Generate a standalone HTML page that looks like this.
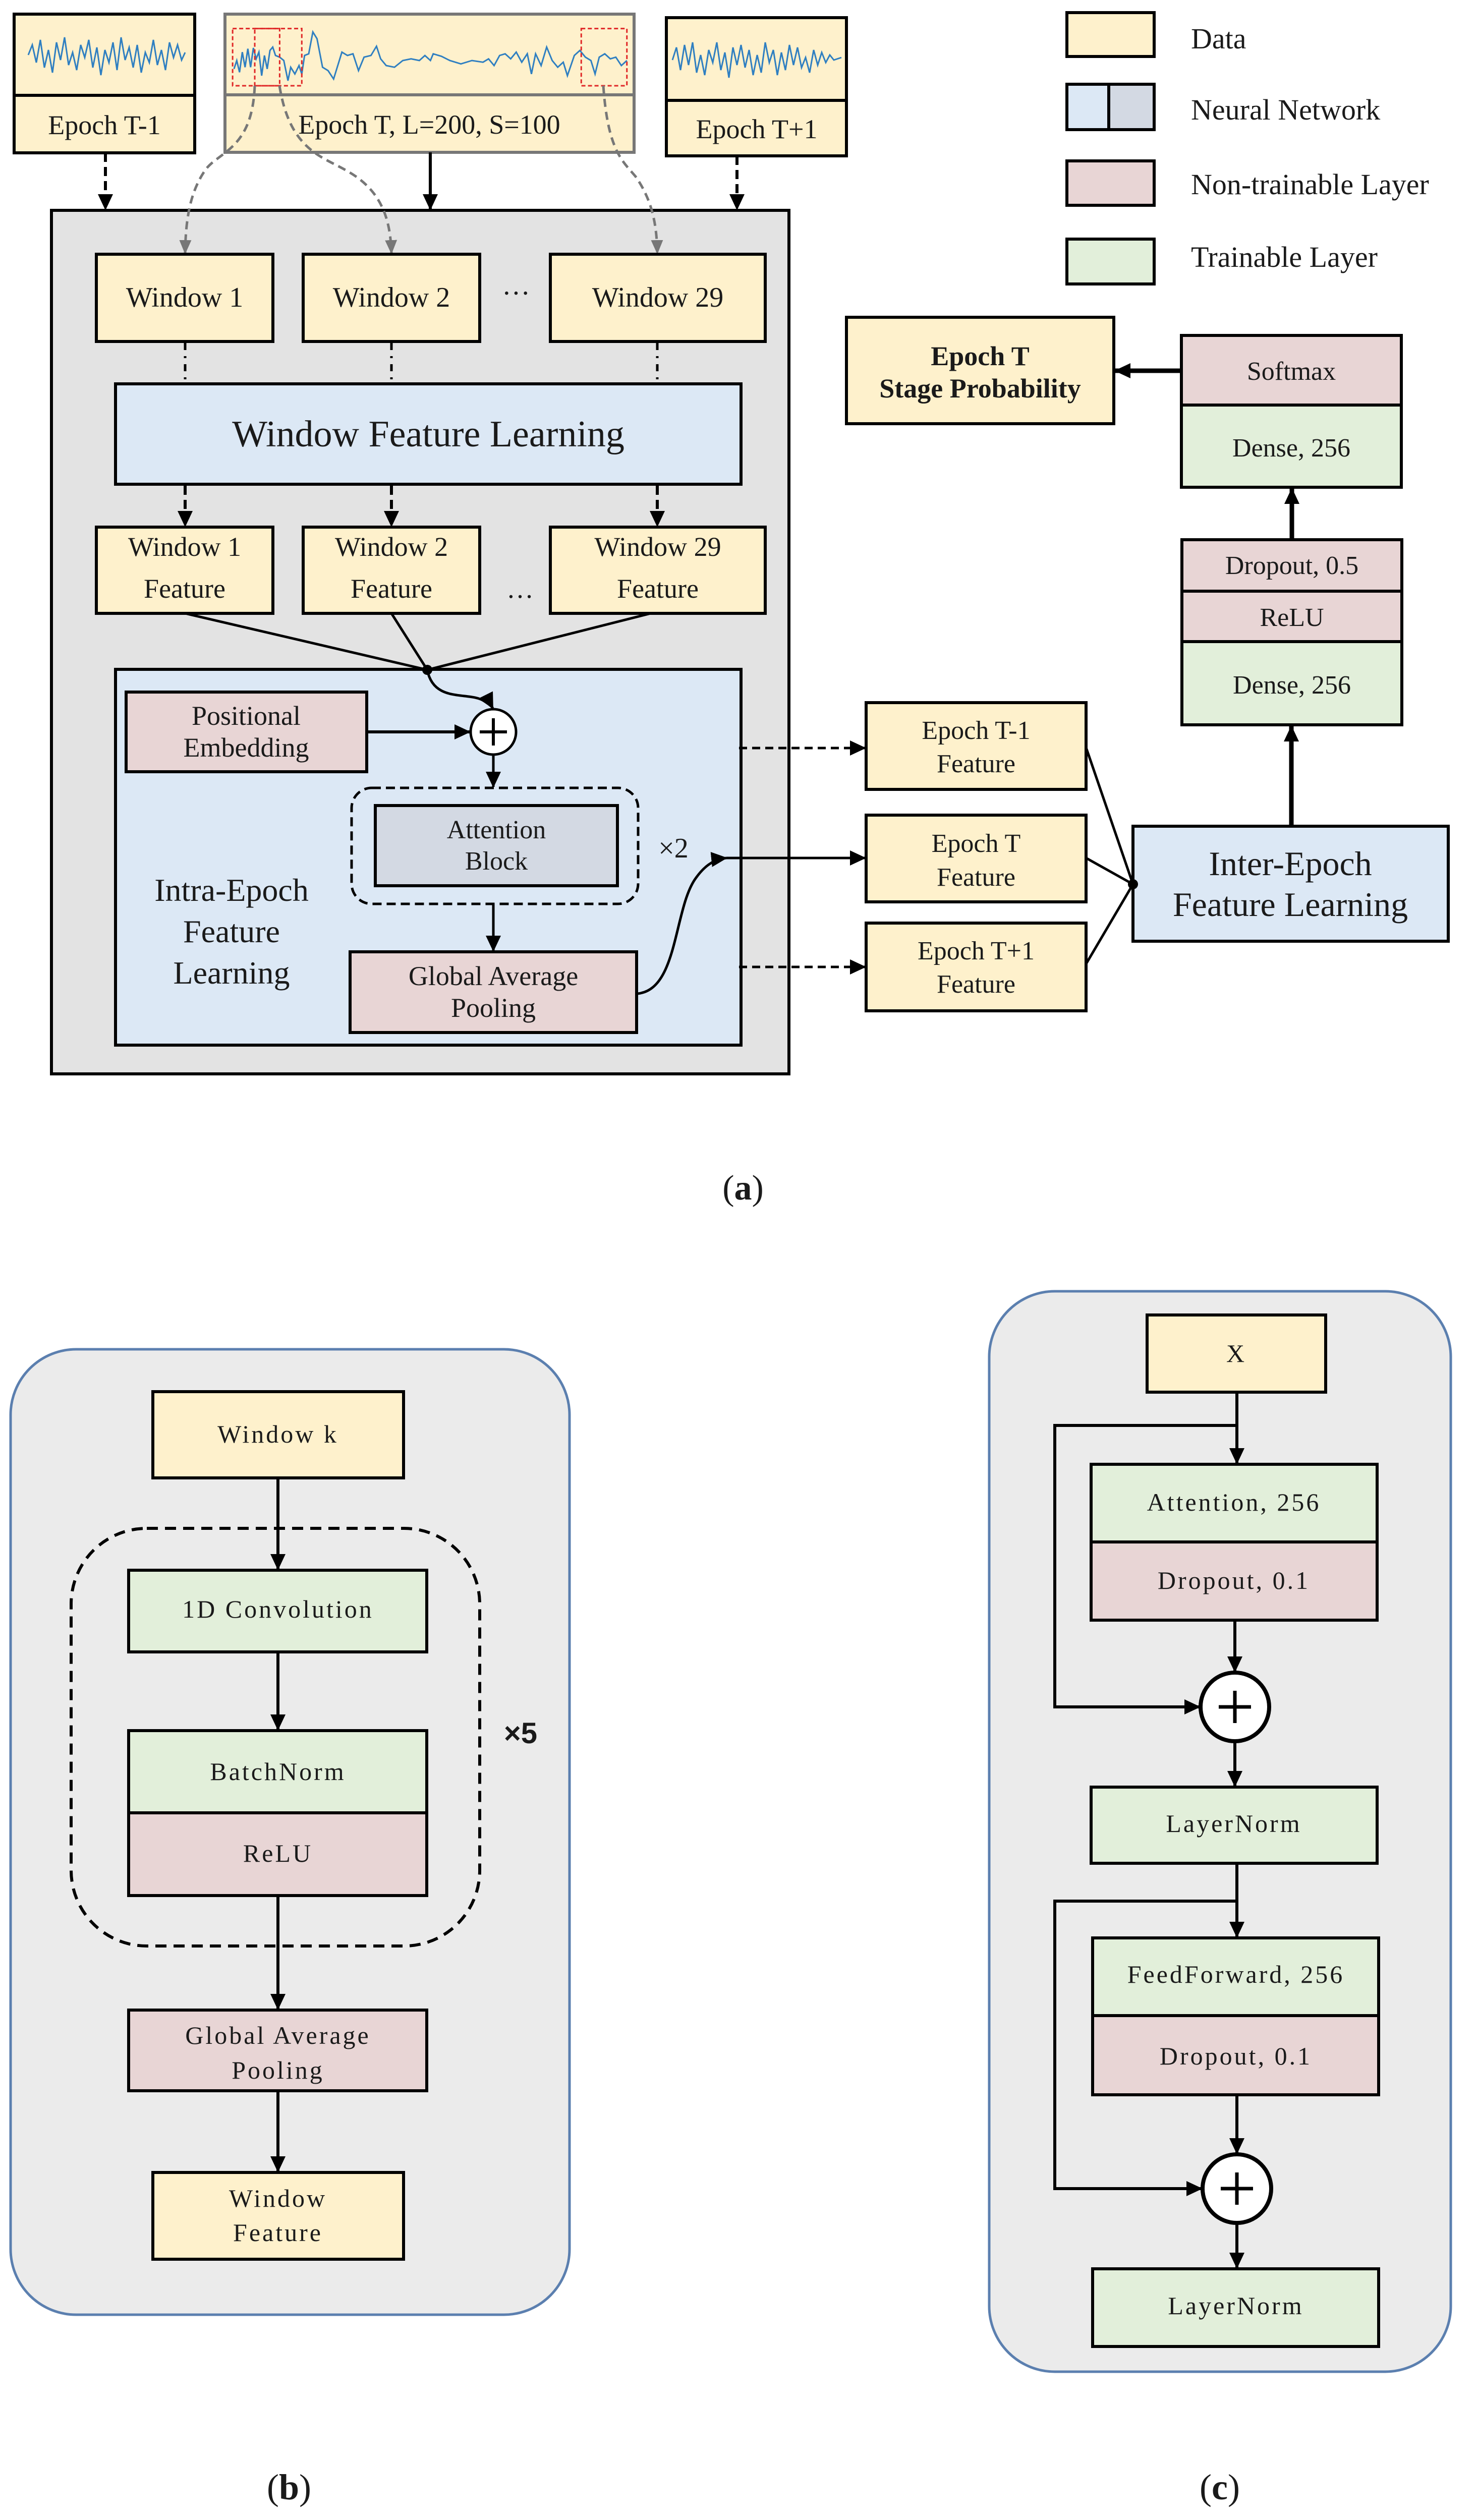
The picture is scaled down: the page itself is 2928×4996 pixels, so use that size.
<!DOCTYPE html>
<html><head><meta charset="utf-8"><style>
html,body{margin:0;padding:0;background:#fff;}
svg{display:block;}
text{font-family:"Liberation Serif",serif;fill:#1a1a1a;}
.c{text-anchor:middle;}
.lo{font-size:50px;letter-spacing:4px;}
</style></head><body>
<svg width="2928" height="4996" viewBox="0 0 2928 4996" xmlns="http://www.w3.org/2000/svg">
<defs>
<marker id="ah" markerUnits="userSpaceOnUse" markerWidth="34" markerHeight="34" refX="30" refY="17" orient="auto"><path d="M0,2 L32,17 L0,32 z" fill="#000"/></marker>
<marker id="ag" markerUnits="userSpaceOnUse" markerWidth="30" markerHeight="30" refX="26" refY="15" orient="auto"><path d="M0,3 L28,15 L0,27 z" fill="#777"/></marker>
</defs>
<rect width="2928" height="4996" fill="#fff"/>

<!-- Epoch boxes -->
<rect x="28" y="28" width="358" height="275" fill="#fef1cc" stroke="#000" stroke-width="6"/>
<line x1="28" y1="189" x2="386" y2="189" stroke="#000" stroke-width="6"/>
<text x="207" y="266" class="c" font-size="54">Epoch T-1</text>
<polyline transform="translate(56,109)" fill="none" stroke="#2f7fc1" stroke-width="3" points="0,0 8,-20 16,15 24,-30 32,25 40,-10 48,35 56,-25 64,10 72,-35 80,20 88,-5 96,30 104,-20 112,5 120,-30 128,25 136,-15 144,40 152,-10 160,15 168,-25 176,30 184,-35 192,10 200,-15 208,25 216,-20 224,35 232,-5 240,15 248,-30 256,20 264,-10 272,30 280,-25 288,5 296,-20 304,10 311,-5"/>

<rect x="446" y="28" width="811" height="274" fill="#fef1cc" stroke="#777" stroke-width="6"/>
<line x1="446" y1="188" x2="1257" y2="188" stroke="#777" stroke-width="6"/>
<text x="851" y="265" class="c" font-size="54">Epoch T, L=200, S=100</text>
<g transform="translate(420,20) scale(0.5485,0.3333)">
<polyline fill="none" stroke="#2f7fc1" stroke-width="3" vector-effect="non-scaling-stroke" points="80,350 90,300 100,370 110,250 120,340 130,230 140,340 150,225 160,290 170,250 180,390 190,270 200,350 210,240 220,220 230,270 245,280 260,300 275,420 285,340 300,380 315,330 325,380 335,270 350,260 365,130 380,170 400,340 420,360 440,410 455,330 470,250 490,270 510,260 530,360 550,280 575,270 595,215 610,290 630,330 660,340 690,300 720,290 750,300 770,270 790,300 800,260 830,275 860,300 900,320 940,300 980,310 1000,290 1020,330 1040,270 1060,260 1080,290 1100,250 1120,310 1140,260 1155,380 1170,260 1190,330 1210,220 1230,300 1250,340 1270,310 1285,390 1310,270 1330,240 1350,280 1370,300 1385,380 1400,280 1420,260 1440,290 1460,280 1480,330 1500,300"/>
<rect x="75" y="110" width="170" height="340" fill="none" stroke="#e02828" stroke-width="3" stroke-dasharray="8,5" vector-effect="non-scaling-stroke"/>
<rect x="155" y="110" width="170" height="340" fill="none" stroke="#e02828" stroke-width="3" stroke-dasharray="8,5" vector-effect="non-scaling-stroke"/>
<rect x="1335" y="110" width="165" height="340" fill="none" stroke="#e02828" stroke-width="3" stroke-dasharray="8,5" vector-effect="non-scaling-stroke"/>
</g>

<rect x="1321" y="35" width="357" height="274" fill="#fef1cc" stroke="#000" stroke-width="6"/>
<line x1="1321" y1="199" x2="1678" y2="199" stroke="#000" stroke-width="6"/>
<text x="1500" y="274" class="c" font-size="54">Epoch T+1</text>
<polyline transform="translate(1333,119)" fill="none" stroke="#2f7fc1" stroke-width="3" points="0,0 8,-25 16,20 24,-30 32,10 40,-35 48,25 56,-10 64,30 72,-20 80,5 88,-35 96,20 104,-15 112,35 120,-25 128,10 136,-30 144,15 152,-20 160,30 168,-10 176,25 184,-35 192,5 200,-20 208,30 216,-15 224,20 232,-30 240,10 248,-25 256,15 264,-5 272,25 280,-20 288,10 296,-15 304,5 312,-10 320,0 335,-5"/>

<!-- main gray box -->
<rect x="102" y="417" width="1462" height="1712" fill="#e3e3e3" stroke="#000" stroke-width="6"/>
<line x1="209" y1="303" x2="209" y2="415" stroke="#000" stroke-width="6" stroke-dasharray="18,10" marker-end="url(#ah)"/>
<line x1="853" y1="302" x2="853" y2="415" stroke="#000" stroke-width="6" marker-end="url(#ah)"/>
<line x1="1461" y1="309" x2="1461" y2="415" stroke="#000" stroke-width="6" stroke-dasharray="18,10" marker-end="url(#ah)"/>

<!-- gray dashed connectors -->
<path d="M505,170 C500,300 430,300 405,340 C375,385 368,440 367,502" fill="none" stroke="#777" stroke-width="5" stroke-dasharray="16,10" marker-end="url(#ag)"/>
<path d="M554,170 C575,300 640,310 690,340 C760,380 774,440 776,502" fill="none" stroke="#777" stroke-width="5" stroke-dasharray="16,10" marker-end="url(#ag)"/>
<path d="M1196,170 C1205,300 1235,320 1260,350 C1295,400 1302,450 1303,502" fill="none" stroke="#777" stroke-width="5" stroke-dasharray="16,10" marker-end="url(#ag)"/>

<rect x="191" y="504" width="350" height="173" fill="#fef1cc" stroke="#000" stroke-width="6"/>
<rect x="601" y="504" width="350" height="173" fill="#fef1cc" stroke="#000" stroke-width="6"/>
<rect x="1091" y="504" width="426" height="173" fill="#fef1cc" stroke="#000" stroke-width="6"/>
<text x="366" y="608" class="c" font-size="56">Window 1</text>
<text x="776" y="608" class="c" font-size="56">Window 2</text>
<text x="1304" y="608" class="c" font-size="56">Window 29</text>
<text x="1023" y="600" class="c" font-size="56">···</text>

<g stroke="#000" stroke-width="5" stroke-dasharray="14,12,4,12">
<line x1="367" y1="680" x2="367" y2="759"/><line x1="776" y1="680" x2="776" y2="759"/><line x1="1303" y1="680" x2="1303" y2="759"/>
</g>
<rect x="229" y="761" width="1240" height="199" fill="#dce8f5" stroke="#000" stroke-width="6"/>
<text x="849" y="885" class="c" font-size="74">Window Feature Learning</text>
<g stroke="#000" stroke-width="6" stroke-dasharray="18,10">
<line x1="367" y1="963" x2="367" y2="1043" marker-end="url(#ah)"/>
<line x1="776" y1="963" x2="776" y2="1043" marker-end="url(#ah)"/>
<line x1="1303" y1="963" x2="1303" y2="1043" marker-end="url(#ah)"/>
</g>
<rect x="191" y="1045" width="350" height="171" fill="#fef1cc" stroke="#000" stroke-width="6"/>
<rect x="601" y="1045" width="350" height="171" fill="#fef1cc" stroke="#000" stroke-width="6"/>
<rect x="1091" y="1045" width="426" height="171" fill="#fef1cc" stroke="#000" stroke-width="6"/>
<g font-size="54">
<text x="366" y="1102" class="c">Window 1</text><text x="366" y="1185" class="c">Feature</text>
<text x="776" y="1102" class="c">Window 2</text><text x="776" y="1185" class="c">Feature</text>
<text x="1304" y="1102" class="c">Window 29</text><text x="1304" y="1185" class="c">Feature</text>
<text x="1031" y="1185" class="c">…</text>
</g>

<!-- intra box -->
<rect x="229" y="1327" width="1240" height="745" fill="#dce8f5" stroke="#000" stroke-width="6"/>
<g stroke="#000" stroke-width="5" fill="none">
<line x1="367" y1="1216" x2="847" y2="1328"/>
<line x1="776" y1="1216" x2="847" y2="1328"/>
<line x1="1290" y1="1216" x2="847" y2="1328"/>
<path d="M847,1328 C860,1395 930,1370 960,1390 C972,1398 976,1402 977,1404" marker-end="url(#ah)"/>
</g>
<circle cx="847" cy="1328" r="10" fill="#000"/>
<rect x="250" y="1372" width="477" height="158" fill="#e8d5d5" stroke="#000" stroke-width="6"/>
<text x="488" y="1437" class="c" font-size="54">Positional</text>
<text x="488" y="1500" class="c" font-size="54">Embedding</text>
<line x1="727" y1="1451" x2="931" y2="1451" stroke="#000" stroke-width="6" marker-end="url(#ah)"/>
<circle cx="978" cy="1451" r="45" fill="#fff" stroke="#000" stroke-width="5"/>
<path d="M978,1424 V1478 M951,1451 H1005" stroke="#000" stroke-width="6"/>
<line x1="978" y1="1496" x2="978" y2="1560" stroke="#000" stroke-width="5" marker-end="url(#ah)"/>
<rect x="697" y="1562" width="568" height="230" rx="40" fill="none" stroke="#000" stroke-width="5" stroke-dasharray="18,10"/>
<rect x="744" y="1597" width="480" height="159" fill="#d3d9e3" stroke="#000" stroke-width="6"/>
<text x="984" y="1662" class="c" font-size="52">Attention</text>
<text x="984" y="1724" class="c" font-size="52">Block</text>
<text x="1335" y="1700" class="c" font-size="56">×2</text>
<line x1="978" y1="1792" x2="978" y2="1885" stroke="#000" stroke-width="5" marker-end="url(#ah)"/>
<rect x="694" y="1887" width="568" height="160" fill="#e8d5d5" stroke="#000" stroke-width="6"/>
<text x="978" y="1953" class="c" font-size="54">Global Average</text>
<text x="978" y="2016" class="c" font-size="54">Pooling</text>
<text x="459" y="1786" class="c" font-size="64">Intra-Epoch</text>
<text x="459" y="1868" class="c" font-size="64">Feature</text>
<text x="459" y="1950" class="c" font-size="64">Learning</text>
<path d="M1262,1970 C1345,1965 1335,1800 1380,1740 C1400,1712 1420,1703 1440,1701" fill="none" stroke="#000" stroke-width="5" marker-end="url(#ah)"/>
<line x1="1440" y1="1701" x2="1715" y2="1701" stroke="#000" stroke-width="5" marker-end="url(#ah)"/>
<line x1="1465" y1="1483" x2="1715" y2="1483" stroke="#000" stroke-width="5" stroke-dasharray="16,10" marker-end="url(#ah)"/>
<line x1="1465" y1="1917" x2="1715" y2="1917" stroke="#000" stroke-width="5" stroke-dasharray="16,10" marker-end="url(#ah)"/>

<!-- epoch features -->
<rect x="1717" y="1393" width="436" height="172" fill="#fef1cc" stroke="#000" stroke-width="6"/>
<rect x="1717" y="1616" width="436" height="172" fill="#fef1cc" stroke="#000" stroke-width="6"/>
<rect x="1717" y="1830" width="436" height="174" fill="#fef1cc" stroke="#000" stroke-width="6"/>
<g font-size="52">
<text x="1935" y="1465" class="c">Epoch T-1</text><text x="1935" y="1531" class="c">Feature</text>
<text x="1935" y="1689" class="c">Epoch T</text><text x="1935" y="1756" class="c">Feature</text>
<text x="1935" y="1902" class="c">Epoch T+1</text><text x="1935" y="1968" class="c">Feature</text>
</g>
<g stroke="#000" stroke-width="5">
<line x1="2153" y1="1482" x2="2246" y2="1753"/>
<line x1="2153" y1="1701" x2="2246" y2="1753"/>
<line x1="2153" y1="1911" x2="2246" y2="1753"/>
</g>
<rect x="2246" y="1638" width="625" height="228" fill="#dce8f5" stroke="#000" stroke-width="6"/>
<circle cx="2246" cy="1753" r="10" fill="#000"/>
<text x="2558" y="1735" class="c" font-size="68">Inter-Epoch</text>
<text x="2558" y="1816" class="c" font-size="68">Feature Learning</text>
<line x1="2560" y1="1638" x2="2560" y2="1440" stroke="#000" stroke-width="9" marker-end="url(#ah)"/>
<rect x="2343" y="1070" width="436" height="102" fill="#e8d5d5" stroke="#000" stroke-width="6"/>
<rect x="2343" y="1172" width="436" height="100" fill="#e8d5d5" stroke="#000" stroke-width="6"/>
<rect x="2343" y="1272" width="436" height="165" fill="#e2efda" stroke="#000" stroke-width="6"/>
<text x="2561" y="1138" class="c" font-size="52">Dropout, 0.5</text>
<text x="2561" y="1241" class="c" font-size="52">ReLU</text>
<text x="2561" y="1375" class="c" font-size="52">Dense, 256</text>
<line x1="2561" y1="1070" x2="2561" y2="969" stroke="#000" stroke-width="9" marker-end="url(#ah)"/>
<rect x="2342" y="665" width="436" height="138" fill="#e8d5d5" stroke="#000" stroke-width="6"/>
<rect x="2342" y="803" width="436" height="163" fill="#e2efda" stroke="#000" stroke-width="6"/>
<text x="2560" y="753" class="c" font-size="52">Softmax</text>
<text x="2560" y="905" class="c" font-size="52">Dense, 256</text>
<line x1="2342" y1="735" x2="2211" y2="735" stroke="#000" stroke-width="9" marker-end="url(#ah)"/>
<rect x="1678" y="629" width="530" height="211" fill="#fef1cc" stroke="#000" stroke-width="6"/>
<text x="1943" y="724" class="c" font-size="54" font-weight="bold">Epoch T</text>
<text x="1943" y="788" class="c" font-size="54" font-weight="bold">Stage Probability</text>

<!-- legend -->
<rect x="2115" y="25" width="173" height="87" fill="#fef1cc" stroke="#000" stroke-width="6"/>
<rect x="2115" y="167" width="83" height="90" fill="#dce8f5" stroke="#000" stroke-width="6"/>
<rect x="2198" y="167" width="90" height="90" fill="#d3d9e3" stroke="#000" stroke-width="6"/>
<rect x="2115" y="319" width="173" height="88" fill="#e8d5d5" stroke="#000" stroke-width="6"/>
<rect x="2115" y="474" width="173" height="89" fill="#e2efda" stroke="#000" stroke-width="6"/>
<g font-size="58">
<text x="2361" y="96">Data</text>
<text x="2361" y="237">Neural Network</text>
<text x="2361" y="385">Non-trainable Layer</text>
<text x="2361" y="529">Trainable Layer</text>
</g>
<text x="1473" y="2378" class="c" font-size="70">(<tspan font-weight="bold">a</tspan>)</text>

<!-- (b) -->
<rect x="21" y="2675" width="1108" height="1914" rx="130" fill="#ebebeb" stroke="#5b7faf" stroke-width="5"/>
<rect x="141" y="3030" width="810" height="828" rx="150" fill="none" stroke="#000" stroke-width="6" stroke-dasharray="22,14"/>
<rect x="303" y="2759" width="497" height="171" fill="#fef1cc" stroke="#000" stroke-width="6"/>
<text x="551" y="2860" class="c lo">Window k</text>
<line x1="551" y1="2930" x2="551" y2="3111" stroke="#000" stroke-width="6" marker-end="url(#ah)"/>
<rect x="255" y="3113" width="591" height="162" fill="#e2efda" stroke="#000" stroke-width="6"/>
<text x="551" y="3207" class="c lo">1D Convolution</text>
<line x1="551" y1="3275" x2="551" y2="3429" stroke="#000" stroke-width="6" marker-end="url(#ah)"/>
<rect x="255" y="3431" width="591" height="163" fill="#e2efda" stroke="#000" stroke-width="6"/>
<rect x="255" y="3594" width="591" height="164" fill="#e8d5d5" stroke="#000" stroke-width="6"/>
<text x="551" y="3529" class="c lo">BatchNorm</text>
<text x="551" y="3691" class="c lo">ReLU</text>
<text x="1032" y="3456" class="c" font-size="58" font-weight="bold" style="font-family:'Liberation Sans',sans-serif">×5</text>
<line x1="551" y1="3758" x2="551" y2="3983" stroke="#000" stroke-width="6" marker-end="url(#ah)"/>
<rect x="255" y="3985" width="591" height="160" fill="#e8d5d5" stroke="#000" stroke-width="6"/>
<text x="551" y="4052" class="c lo">Global Average</text>
<text x="551" y="4121" class="c lo">Pooling</text>
<line x1="551" y1="4145" x2="551" y2="4305" stroke="#000" stroke-width="6" marker-end="url(#ah)"/>
<rect x="303" y="4307" width="497" height="172" fill="#fef1cc" stroke="#000" stroke-width="6"/>
<text x="551" y="4375" class="c lo">Window</text>
<text x="551" y="4443" class="c lo">Feature</text>
<text x="573" y="4955" class="c" font-size="72">(<tspan font-weight="bold">b</tspan>)</text>

<!-- (c) -->
<rect x="1961" y="2560" width="915" height="2142" rx="130" fill="#ebebeb" stroke="#5b7faf" stroke-width="5"/>
<rect x="2274" y="2607" width="354" height="153" fill="#fef1cc" stroke="#000" stroke-width="6"/>
<text x="2451" y="2700" class="c lo">X</text>
<line x1="2452" y1="2760" x2="2452" y2="2901" stroke="#000" stroke-width="6" marker-end="url(#ah)"/>
<polyline points="2452,2826 2091,2826 2091,3384 2378,3384" fill="none" stroke="#000" stroke-width="6" marker-end="url(#ah)"/>
<rect x="2163" y="2903" width="567" height="154" fill="#e2efda" stroke="#000" stroke-width="6"/>
<rect x="2163" y="3057" width="567" height="155" fill="#e8d5d5" stroke="#000" stroke-width="6"/>
<text x="2446" y="2995" class="c lo">Attention, 256</text>
<text x="2446" y="3150" class="c lo">Dropout, 0.1</text>
<line x1="2448" y1="3212" x2="2448" y2="3314" stroke="#000" stroke-width="6" marker-end="url(#ah)"/>
<circle cx="2448" cy="3384" r="68" fill="#fff" stroke="#000" stroke-width="8"/>
<path d="M2448,3352 V3416 M2416,3384 H2480" stroke="#000" stroke-width="7"/>
<line x1="2448" y1="3452" x2="2448" y2="3541" stroke="#000" stroke-width="6" marker-end="url(#ah)"/>
<rect x="2163" y="3543" width="567" height="151" fill="#e2efda" stroke="#000" stroke-width="6"/>
<text x="2446" y="3632" class="c lo">LayerNorm</text>
<line x1="2452" y1="3694" x2="2452" y2="3840" stroke="#000" stroke-width="6" marker-end="url(#ah)"/>
<polyline points="2452,3769 2091,3769 2091,4339 2382,4339" fill="none" stroke="#000" stroke-width="6" marker-end="url(#ah)"/>
<rect x="2166" y="3842" width="567" height="154" fill="#e2efda" stroke="#000" stroke-width="6"/>
<rect x="2166" y="3996" width="567" height="157" fill="#e8d5d5" stroke="#000" stroke-width="6"/>
<text x="2450" y="3931" class="c lo">FeedForward, 256</text>
<text x="2450" y="4093" class="c lo">Dropout, 0.1</text>
<line x1="2452" y1="4153" x2="2452" y2="4269" stroke="#000" stroke-width="6" marker-end="url(#ah)"/>
<circle cx="2452" cy="4339" r="68" fill="#fff" stroke="#000" stroke-width="8"/>
<path d="M2452,4307 V4371 M2420,4339 H2484" stroke="#000" stroke-width="7"/>
<line x1="2452" y1="4407" x2="2452" y2="4496" stroke="#000" stroke-width="6" marker-end="url(#ah)"/>
<rect x="2166" y="4498" width="567" height="154" fill="#e2efda" stroke="#000" stroke-width="6"/>
<text x="2450" y="4588" class="c lo">LayerNorm</text>
<text x="2418" y="4955" class="c" font-size="72">(<tspan font-weight="bold">c</tspan>)</text>
</svg>
</body></html>
